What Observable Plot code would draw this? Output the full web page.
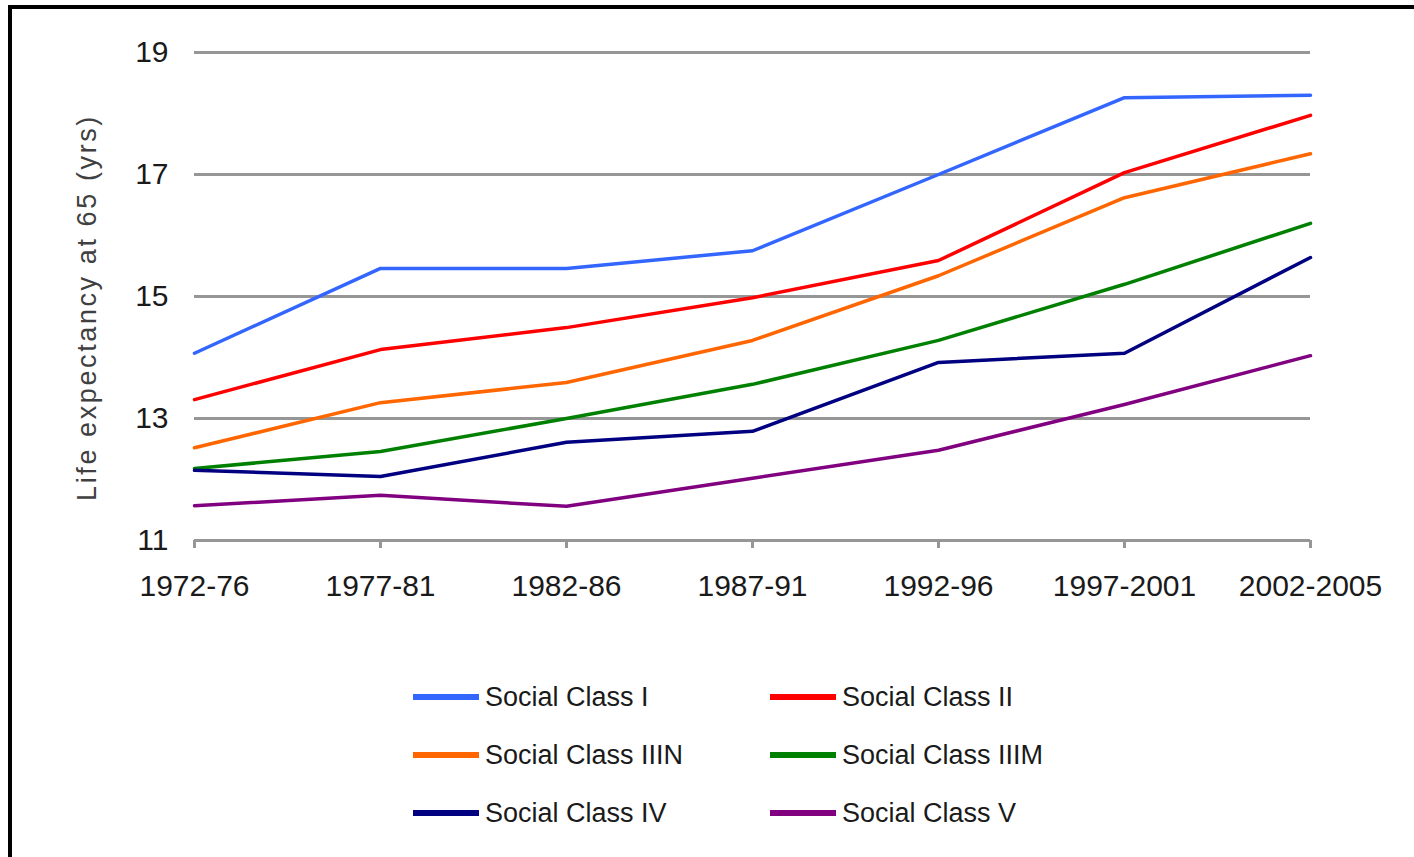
<!DOCTYPE html>
<html>
<head>
<meta charset="utf-8">
<script src="https://cdn.jsdelivr.net/npm/d3@7"></script>
<script src="https://cdn.jsdelivr.net/npm/@observablehq/plot@0.6"></script>
<style>
  html, body { margin: 0; padding: 0; background: #fff; }
  body { width: 1414px; height: 857px; position: relative; overflow: hidden;
         font-family: "Liberation Sans", Arial, sans-serif; }
  #frame { position: absolute; left: 8px; top: 5px; right: 0; bottom: 0;
           border-top: 4px solid #000; border-left: 4px solid #000; }
  #chart { position: absolute; left: 0; top: 0; }
  #legend { position: absolute; left: 413px; top: 668px; display: grid;
            grid-template-columns: 357px 320px; grid-auto-rows: 58px; }
  .item { display: flex; align-items: center; }
  .sw { width: 66px; height: 6px; margin-right: 6px; }
  .lab { font-size: 27px; color: #1a1a1a; white-space: nowrap; }
</style>
</head>
<body>
<div id="frame"></div>
<div id="chart"></div>
<div id="legend"></div>
<script>
// ---- Data ----
const periods = ["1972-76", "1977-81", "1982-86", "1987-91", "1992-96", "1997-2001", "2002-2005"];
const seriesNames = ["Social Class I", "Social Class II", "Social Class IIIN", "Social Class IIIM", "Social Class IV", "Social Class V"];
const seriesColors = ["#3366ff", "#ff0000", "#ff6600", "#008000", "#000080", "#800080"];
const yTicks = [11, 13, 15, 17, 19];
const yLabel = "Life expectancy at 65 (yrs)";

const classI    = [14.07, 15.46, 15.46, 15.75, 17.00, 18.26, 18.30];
const classII   = [13.31, 14.13, 14.49, 14.98, 15.59, 17.03, 17.97];
const classIIIN = [12.52, 13.26, 13.59, 14.28, 15.34, 16.62, 17.34];
const classIIIM = [12.18, 12.46, 13.00, 13.56, 14.28, 15.20, 16.20];
const classIV   = [12.15, 12.05, 12.61, 12.79, 13.92, 14.07, 15.64];
const classV    = [11.57, 11.74, 11.56, 12.02, 12.48, 13.23, 14.03];

const seriesValues = [classI, classII, classIIIN, classIIIM, classIV, classV];
const data = [];
seriesNames.forEach((name, s) => {
  periods.forEach((p, i) => data.push({series: name, period: p, value: seriesValues[s][i]}));
});

const font = '"Liberation Sans", Arial, sans-serif';

const chart = Plot.plot({
  width: 1414,
  height: 640,
  marginLeft: 194,
  marginRight: 104,
  marginTop: 52,
  marginBottom: 100,
  style: {fontFamily: font, fontSize: "30px", color: "#1a1a1a", background: "transparent"},
  x: {type: "point", domain: periods, padding: 0, label: null},
  y: {domain: [11, 19], label: null},
  color: {domain: seriesNames, range: seriesColors},
  marks: [
    Plot.gridY(yTicks.filter(d => d > 11), {stroke: "#969696", strokeOpacity: 1, strokeWidth: 3}),
    Plot.ruleY([11], {stroke: "#969696", strokeWidth: 3}),
    Plot.axisX({tickSize: 8, tickPadding: 26, stroke: "#969696", strokeWidth: 3, fontSize: 30, label: null, fill: "#1a1a1a"}),
    Plot.axisY({ticks: yTicks, tickSize: 0, tickPadding: 26, fontSize: 30, label: null, fill: "#1a1a1a"}),
    Plot.lineY(data, {x: "period", y: "value", z: "series", stroke: "series", strokeWidth: 3.5}),
    Plot.text([yLabel], {frameAnchor: "left", textAnchor: "middle", rotate: -90, dx: -107, dy: 11, fontSize: 27, fill: "#404040"})
  ]
});
document.getElementById("chart").appendChild(chart);
chart.querySelectorAll("text").forEach(t => {
  if (t.textContent === yLabel) t.setAttribute("letter-spacing", "2.6");
});

// ---- Legend ----
const legend = document.getElementById("legend");
seriesNames.forEach((name, i) => {
  const item = document.createElement("div");
  item.className = "item";
  const sw = document.createElement("span");
  sw.className = "sw";
  sw.style.background = seriesColors[i];
  const lab = document.createElement("span");
  lab.className = "lab";
  lab.textContent = name;
  item.appendChild(sw);
  item.appendChild(lab);
  legend.appendChild(item);
});
</script>
</body>
</html>
